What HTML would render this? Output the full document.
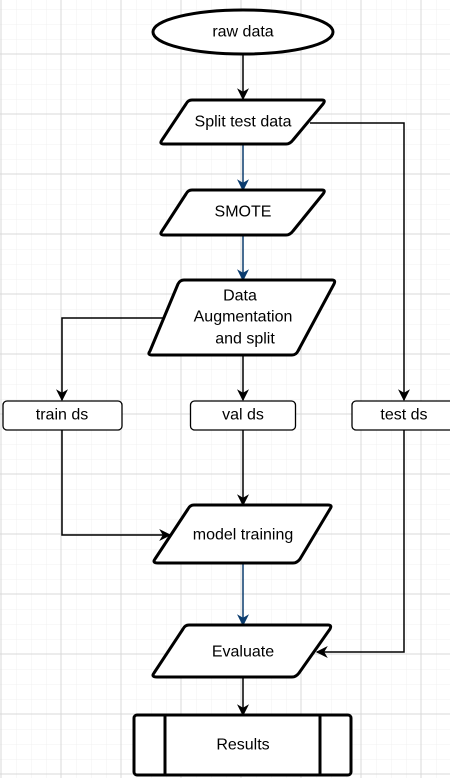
<!DOCTYPE html>
<html><head><meta charset="utf-8"><style>
html,body{margin:0;padding:0;background:#fff;}
svg{display:block;}
text{font-family:"Liberation Sans",Arial,sans-serif;font-size:16px;fill:#000;text-anchor:middle;dominant-baseline:central;}
</style></head><body>
<svg width="450" height="778" viewBox="0 0 450 778" xmlns="http://www.w3.org/2000/svg">
<defs>
<pattern id="minor" x="1" y="-6" width="15" height="15" patternUnits="userSpaceOnUse">
<path d="M0 0H15M0 0V15" stroke="#f0f0f0" stroke-width="1" fill="none"/>
</pattern>
<pattern id="major" x="0.5" y="-6.5" width="60" height="60" patternUnits="userSpaceOnUse">
<path d="M0 0.5H60M0.5 0V60" stroke="#d9d9d9" stroke-width="1" fill="none"/>
</pattern>
<marker id="ab" viewBox="0 0 10 10" refX="9" refY="5" markerWidth="12" markerHeight="12" markerUnits="userSpaceOnUse" orient="auto"><path d="M0 0L10 5L0 10L3 5Z" fill="#000"/></marker>
<marker id="au" viewBox="0 0 10 10" refX="9" refY="5" markerWidth="12" markerHeight="12" markerUnits="userSpaceOnUse" orient="auto"><path d="M0 0L10 5L0 10L3 5Z" fill="#0b3c6e"/></marker>
</defs>
<rect width="450" height="778" fill="url(#minor)"/>
<rect width="450" height="778" fill="url(#major)"/>

<g fill="none" stroke-width="1.5">
<path d="M243 54V99" stroke="#000" marker-end="url(#ab)"/>
<path d="M243 145V190" stroke="#0b3c6e" marker-end="url(#au)"/>
<path d="M243 235V280" stroke="#0b3c6e" marker-end="url(#au)"/>
<path d="M310 123H404V400" stroke="#000" marker-end="url(#ab)"/>
<path d="M166 318H62V400" stroke="#000" marker-end="url(#ab)"/>
<path d="M243 355V400" stroke="#000" marker-end="url(#ab)"/>
<path d="M243 430V505" stroke="#000" marker-end="url(#ab)"/>
<path d="M62 430V535H170" stroke="#000" marker-end="url(#ab)"/>
<path d="M243 563V625" stroke="#0b3c6e" marker-end="url(#au)"/>
<path d="M404 430V652H317" stroke="#000" marker-end="url(#ab)"/>
<path d="M243 677V715" stroke="#000" marker-end="url(#ab)"/>
</g>

<g fill="#fff" stroke="#000" stroke-width="3" stroke-linejoin="round">
<ellipse cx="243" cy="32" rx="90" ry="22"/>
<path d="M192 100H322Q326 100 323 104L293 140Q290 144 286 144H164Q159 144 162 140L186 104Q188 100 192 100Z"/>
<path d="M192 190H322Q326 190 323 194L293 231Q290 235 286 235H164Q159 235 162 231L186 194Q188 190 192 190Z"/>
<path d="M184 280H332Q336 280 334 284L298 351Q296 355 292 355H152Q147 355 150 351L178 284Q180 280 184 280Z"/>
<path d="M194 505H328Q333 505 330 509L300 559Q297 563 293 563H158Q152 563 155 559L188 509Q190 505 194 505Z"/>
<path d="M189 625H328Q332 625 330 629L299 673Q296 677 292 677H157Q151 677 154 673L183 629Q185 625 189 625Z"/>
<rect x="134" y="715" width="217" height="60" rx="3"/>
</g>
<g stroke="#000" stroke-width="3"><path d="M165 715V775M320 715V775"/></g>
<g fill="#fff" stroke="#000" stroke-width="1.3">
<rect x="3" y="401" width="119" height="29" rx="4"/>
<rect x="190.5" y="401" width="105" height="29" rx="4"/>
<rect x="352" y="401" width="110" height="29" rx="4"/>
</g>

<text x="243" y="32">raw data</text>
<text x="243" y="122">Split test data</text>
<text x="243" y="212">SMOTE</text>
<text x="240" y="296">Data</text>
<text x="243" y="317">Augmentation</text>
<text x="245" y="339">and split</text>
<text x="62" y="415">train ds</text>
<text x="243" y="415">val ds</text>
<text x="404" y="415">test ds</text>
<text x="243" y="535">model training</text>
<text x="243" y="652">Evaluate</text>
<text x="243" y="745">Results</text>
</svg>
</body></html>
